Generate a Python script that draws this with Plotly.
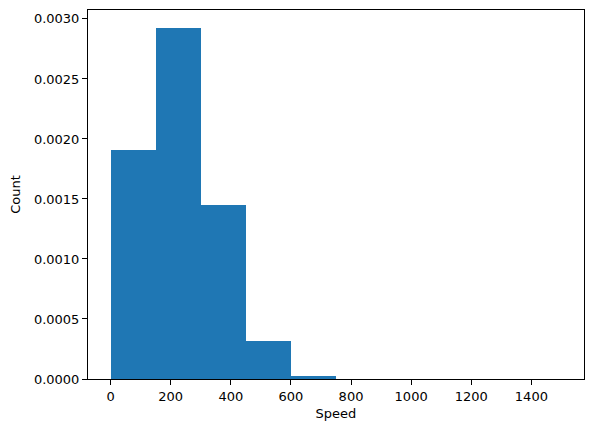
import plotly.graph_objects as go

bin_edges = [0, 150, 300, 450, 600, 750, 900, 1050, 1200, 1350, 1500]
density = [0.001911, 0.002928, 0.001453, 0.000319, 0.0000275,
           0.0, 0.0, 0.0, 0.0, 0.0]

centers = [(a + b) / 2 for a, b in zip(bin_edges[:-1], bin_edges[1:])]
widths = [b - a for a, b in zip(bin_edges[:-1], bin_edges[1:])]

fig = go.Figure(go.Bar(
    x=centers, y=density, width=widths,
    marker=dict(color="#1f77b4", line=dict(width=0)),
    showlegend=False,
))

axis_common = dict(
    showline=True, linecolor="black", linewidth=1, mirror=True,
    ticks="outside", ticklen=5, tickwidth=1, tickcolor="black",
    showgrid=False, zeroline=False,
    tickfont=dict(family="DejaVu Sans", size=13, color="black"),
)

# page body has an 8px default margin, so the figure is a bit smaller than the window
fig.update_layout(
    width=585, height=424,
    margin=dict(l=80, r=9, t=2, b=53),
    plot_bgcolor="white", paper_bgcolor="white",
    bargap=0,
    xaxis=dict(range=[-75, 1575], tickvals=[0, 200, 400, 600, 800, 1000, 1200, 1400],
               title=dict(text="Speed", font=dict(family="DejaVu Sans", size=13, color="black"),
                          standoff=6),
               **axis_common),
    yaxis=dict(range=[0, 0.0030744], tickvals=[0, 0.0005, 0.001, 0.0015, 0.002, 0.0025, 0.003],
               tickformat=".4f",
               title=dict(text="Count", font=dict(family="DejaVu Sans", size=13, color="black"),
                          standoff=10),
               **axis_common),
)

fig.write_html("out.html")
